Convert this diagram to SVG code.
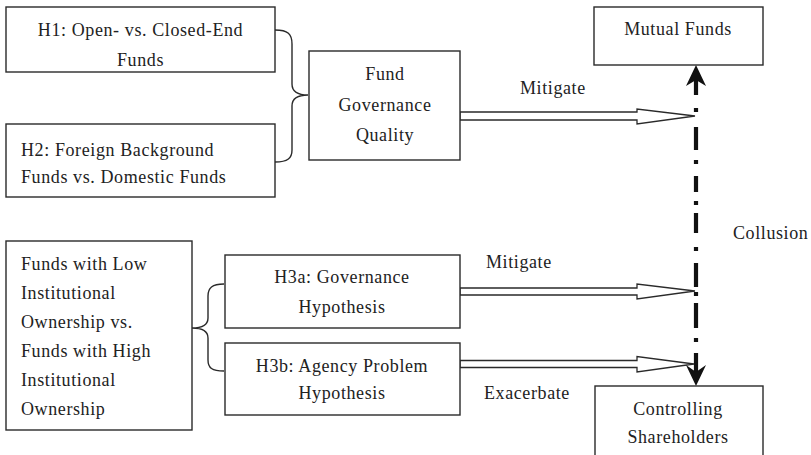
<svg xmlns="http://www.w3.org/2000/svg" width="811" height="455" viewBox="0 0 811 455">
<style>
.box{fill:#fff;stroke:#2a2a2a;stroke-width:1.4}
.t{font-family:"Liberation Serif","Times New Roman",serif;font-size:18px;letter-spacing:0.6px;fill:#222}
.c{text-anchor:middle}
.brace{fill:none;stroke:#2a2a2a;stroke-width:1.4}
.hollow{fill:#fff;stroke:#2a2a2a;stroke-width:1.3;stroke-linejoin:miter}
.dd{fill:none;stroke:#111;stroke-width:4.2}
.head{fill:#111}
</style>
<rect width="811" height="455" fill="#fff"/>
<g id="connectors">
<path class="brace" d="M275,30 C288,30 292,34 292,44 L292,84 C292,92 298,95 308,95 C298,95 292,98 292,106 L292,150 C292,158 288,162 275,162"/>
<path class="brace" d="M224,284 C212,284 208,288 208,296 L208,318 C208,325 202,328 192,328 C202,328 208,331 208,338 L208,360 C208,368 212,371 224,371"/>
<path class="hollow" d="M460,112 L637,112 L637,109 L695,116 L637,124 L637,120 L460,120 Z"/>
<path class="hollow" d="M460,288 L637,288 L637,284 L695,291 L637,299 L637,295 L460,295 Z"/>
<path class="hollow" d="M460,360.5 L637,360.5 L637,356.5 L694,364 L637,372 L637,367.5 L460,367.5 Z"/>
<path class="dd" d="M696,80 L696,95 M696,108 L696,112 M696,127 L696,150 M696,160 L696,164 M696,176 L696,192 M696,201 L696,205 M696,213 L696,233 M696,247 L696,251 M696,263 L696,287 M696,292 L696,296 M696,303 L696,328 M696,338 L696,342 M696,353 L696,372"/>
<path class="head" d="M696,65 L706,86 L696,80 L686,86 Z"/>
<path class="head" d="M696,386 L706,365 L696,372 L686,365 Z"/>
<text class="t" x="520" y="94">Mitigate</text>
<text class="t" x="486" y="268">Mitigate</text>
<text class="t" x="484" y="399">Exacerbate</text>
<text class="t" x="733" y="239">Collusion</text>
</g>
<g id="h1">
<rect class="box" x="6" y="7" width="269" height="65"/>
<text class="t c" x="140.5" y="36">H1: Open- vs. Closed-End</text>
<text class="t c" x="140.5" y="66">Funds</text>
</g>
<g id="h2">
<rect class="box" x="6" y="124" width="269" height="73"/>
<text class="t" x="21" y="156">H2: Foreign Background</text>
<text class="t" x="21" y="183">Funds vs. Domestic Funds</text>
</g>
<g id="fgq">
<rect class="box" x="309" y="51" width="151" height="109"/>
<text class="t c" x="385" y="80">Fund</text>
<text class="t c" x="385" y="111">Governance</text>
<text class="t c" x="385" y="141">Quality</text>
</g>
<g id="mutual">
<rect class="box" x="594" y="7" width="169" height="58"/>
<text class="t c" x="678" y="35">Mutual Funds</text>
</g>
<g id="inst">
<rect class="box" x="6" y="241" width="186" height="189"/>
<text class="t" x="21" y="270">Funds with Low</text>
<text class="t" x="21" y="299">Institutional</text>
<text class="t" x="21" y="328">Ownership vs.</text>
<text class="t" x="21" y="357">Funds with High</text>
<text class="t" x="21" y="386">Institutional</text>
<text class="t" x="21" y="415">Ownership</text>
</g>
<g id="h3a">
<rect class="box" x="225" y="255" width="235" height="73"/>
<text class="t c" x="342" y="283">H3a: Governance</text>
<text class="t c" x="342" y="313">Hypothesis</text>
</g>
<g id="h3b">
<rect class="box" x="225" y="343" width="235" height="72"/>
<text class="t c" x="342" y="372">H3b: Agency Problem</text>
<text class="t c" x="342" y="399">Hypothesis</text>
</g>
<g id="ctrl">
<rect class="box" x="595" y="386" width="168" height="80"/>
<text class="t c" x="678" y="415">Controlling</text>
<text class="t c" x="678" y="443">Shareholders</text>
</g>
</svg>
